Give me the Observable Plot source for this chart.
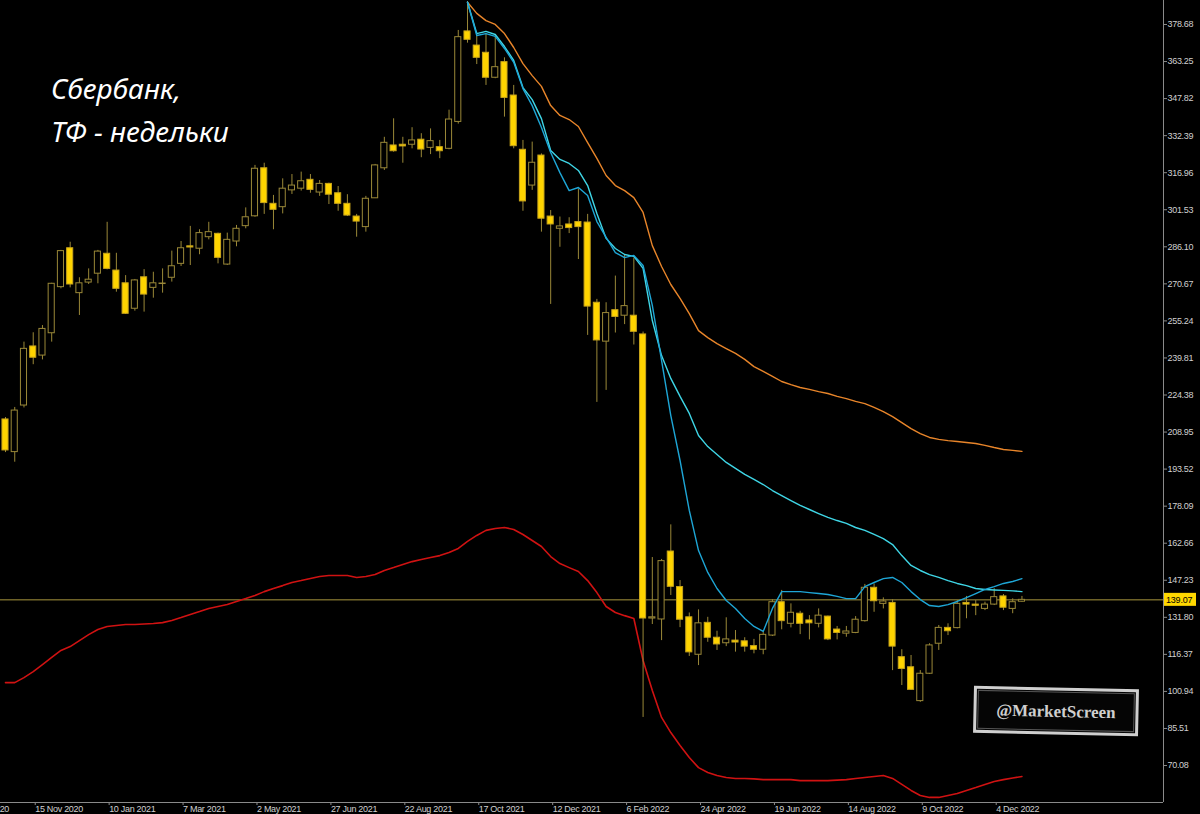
<!DOCTYPE html>
<html><head><meta charset="utf-8">
<script src="https://cdn.jsdelivr.net/npm/d3@7"></script>
<script src="https://cdn.jsdelivr.net/npm/@observablehq/plot@0.6"></script>
<style>
html,body{margin:0;padding:0;background:#000;}
#chart{width:1200px;height:814px;overflow:hidden;}
</style>
</head><body><div id="chart"></div>
<script>
// Weekly candles, bar index 0 = week of 25 Oct 2020 ... 110 = last bar
const open = [214.2,200.6,220.0,244.6,240.8,250.1,269.3,285.5,266.8,271.2,
 274.9,283.2,276.2,270.9,260.3,273.4,269.0,270.6,273.2,279.0,
 286.3,285.3,290.1,291.5,278.7,288.3,294.7,298.8,318.8,304.0,
 302.6,309.6,310.3,314.0,308.7,312.3,308.4,304.0,298.7,294.3,
 306.3,318.8,328.3,328.6,328.6,330.7,327.3,327.6,326.9,338.1,
 375.8,369.9,366.9,356.5,363.0,349.1,326.5,311.6,324.1,298.7,
 293.6,295.4,296.4,296.2,262.8,246.6,259.7,257.4,257.4,249.6,
 131.3,130.9,159.2,144.4,131.8,116.2,129.5,123.3,121.0,122.1,
 121.8,119.8,118.3,124.2,138.1,129.1,133.3,130.5,129.1,132.1,
 126.7,125.0,125.3,130.2,144.1,137.4,137.8,115.2,111.0,96.9,
 108.3,120.8,127.4,127.3,137.8,137.1,135.3,137.1,140.5,135.3,
 138.3];
const high = [215.0,219.2,246.4,250.3,253.3,270.9,284.6,288.0,273.2,276.9,
 284.6,296.3,283.4,274.1,272.5,276.6,275.5,276.9,284.3,288.3,
 294.6,293.2,296.3,291.8,291.8,295.0,302.3,320.0,320.9,307.5,
 314.4,316.2,317.2,316.2,313.7,312.6,311.2,307.8,299.6,307.1,
 320.4,331.7,339.4,331.7,335.7,333.2,335.2,330.4,343.0,376.2,
 388.2,374.1,374.8,374.5,364.8,353.3,330.4,329.7,324.8,301.2,
 298.5,298.2,310.2,299.6,264.2,262.8,273.9,282.9,281.4,250.6,
 156.7,155.9,170.3,147.1,133.6,134.9,131.8,126.0,131.6,126.3,
 123.3,122.6,125.6,139.1,143.0,137.4,134.3,132.5,135.3,132.3,
 128.0,128.0,132.1,145.5,145.7,139.9,139.1,118.3,115.9,109.6,
 120.8,128.4,129.1,138.8,140.5,138.8,138.1,143.7,141.3,139.5,
 140.5];
const low = [200.4,196.4,219.0,237.0,239.0,246.4,268.6,269.0,257.5,270.4,
 270.7,276.5,267.2,257.9,259.3,258.9,264.7,266.8,271.4,277.9,
 278.3,282.8,289.0,279.0,278.3,286.1,293.6,298.4,299.6,293.2,
 299.8,307.9,309.3,308.4,307.1,303.7,300.9,298.7,290.1,292.2,
 306.2,317.9,325.5,320.9,326.9,323.2,324.5,322.8,326.5,337.2,
 370.9,362.0,353.3,356.1,340.1,326.9,300.9,309.6,292.2,262.1,
 285.9,291.6,280.8,249.2,221.3,226.3,250.2,253.7,245.2,90.1,
 128.8,122.1,140.9,127.5,115.5,111.7,121.4,118.0,119.6,117.3,
 117.3,116.6,116.2,123.8,126.6,127.4,124.6,122.4,127.4,122.1,
 122.4,123.5,125.0,129.8,133.9,135.3,109.6,103.4,101.4,96.4,
 108.0,118.0,124.2,127.0,131.2,132.5,134.6,136.7,134.6,133.3,
 138.1];
const close = [201.3,217.9,243.6,239.9,251.9,270.7,284.3,270.4,270.9,272.4,
 284.1,276.9,268.6,258.2,272.1,266.2,270.9,270.8,278.0,285.5,
 285.8,291.8,292.2,281.5,289.0,293.6,298.4,318.6,304.3,301.5,
 310.3,311.6,313.4,309.8,312.3,307.8,304.0,299.1,296.6,306.1,
 320.0,329.4,325.9,327.9,330.4,326.6,330.1,325.9,339.1,373.4,
 372.3,364.8,356.5,360.9,348.1,328.0,305.0,321.1,297.8,295.4,
 294.6,293.9,294.3,261.2,247.1,258.5,256.9,261.4,250.7,131.3,
 131.8,155.2,144.5,130.8,117.2,129.3,123.3,120.5,122.6,121.3,
 119.6,118.3,124.5,138.1,130.2,133.7,129.1,129.3,132.5,122.6,
 125.3,125.9,130.8,144.1,138.5,138.4,119.6,110.3,101.6,108.3,
 120.1,127.4,126.0,137.4,137.1,136.6,137.1,140.2,135.8,138.1,
 139.07];

// Indicator lines (upper bands start at bar 50, lower red line from bar 0)
const bandStart = 50;
const orangeBand = [387.96,383.3,380.3,378.7,374.9,369.1,362.4,357.4,352.9,344.9,
 340.8,339.1,336.2,329.5,322.9,315.8,311.6,309.5,306.6,300.4,
 286.6,277.9,270.4,264.6,258.3,251.2,248.3,245.8,243.7,241.7,
 239.2,236.2,234.2,232.1,230.0,228.7,227.5,226.7,225.8,225.0,
 223.8,222.9,221.7,220.8,219.2,217.5,215.4,212.9,210.4,208.3,
 206.7,205.9,205.4,205.0,204.6,204.2,203.4,202.5,201.7,201.3,
 200.9];
const cyanLight = [387.96,374.9,375.8,374.5,369.5,363.7,352.4,347.4,339.5,326.2,
 322.5,320.8,317.9,311.6,300.0,289.6,285.4,282.9,282.1,277.1,
 255.4,240.8,231.3,223.8,216.7,207.5,202.9,199.6,196.3,193.8,
 191.3,189.2,187.1,184.6,182.5,180.4,178.4,176.7,175.0,173.4,
 172.1,170.9,169.2,168.0,166.3,164.6,162.1,157.5,153.4,151.3,
 149.6,148.4,147.1,145.9,145.0,143.8,143.4,143.2,143.0,142.8,
 142.5];
const cyanDeep = [387.96,374.1,374.9,373.7,368.7,362.9,352.0,344.9,335.8,325.4,
 317.0,309.5,310.8,307.5,296.6,290.0,283.7,281.6,282.5,278.3,
 261.7,238.8,215.8,197.1,176.3,159.6,150.5,143.8,138.8,135.5,
 131.3,128.0,125.9,135.5,142.5,142.5,142.5,142.1,141.7,141.3,
 140.5,139.6,139.6,144.6,146.3,147.9,148.4,146.3,142.5,139.2,
 136.7,136.3,137.1,138.4,140.0,141.7,143.4,144.6,145.9,146.7,
 147.9];
const redLine = [104.6,104.6,106.7,109.2,112.1,115.1,118.0,119.6,122.1,124.6,
 126.7,128.0,128.4,128.8,128.8,129.0,129.2,129.6,130.5,131.7,
 133.0,134.2,135.5,136.3,137.1,138.4,139.6,140.9,142.5,143.8,
 145.0,146.3,147.1,148.0,148.8,149.2,149.2,149.2,148.4,148.8,
 149.6,151.3,152.5,153.8,155.0,155.9,156.7,157.5,158.8,160.5,
 163.4,165.9,168.0,168.8,169.2,168.4,166.3,163.8,161.3,157.1,
 154.2,152.5,150.9,147.1,142.1,136.3,133.8,132.5,131.3,113.8,
 101.3,90.1,83.8,78.4,73.4,69.2,67.2,65.9,65.1,64.7,
 64.7,64.5,64.2,64.2,64.2,64.2,63.8,63.8,63.8,63.8,
 64.0,64.2,64.7,65.1,65.5,65.9,64.7,62.2,59.7,57.6,
 56.8,56.8,57.6,58.4,59.7,60.9,62.2,63.4,64.2,64.9,
 65.5];

const yTicks = [378.68,363.25,347.82,332.39,316.96,301.53,286.10,270.67,255.24,239.81,
 224.38,208.95,193.52,178.09,162.66,147.23,131.80,116.37,100.94,85.51,70.08];
const xTickBars = [-5,3,11,19,27,35,43,51,59,67,75,83,91,99,107];
const xTickLabels = ["20 Sep 2020","15 Nov 2020","10 Jan 2021","7 Mar 2021","2 May 2021",
 "27 Jun 2021","22 Aug 2021","17 Oct 2021","12 Dec 2021","6 Feb 2022","24 Apr 2022",
 "19 Jun 2022","14 Aug 2022","9 Oct 2022","4 Dec 2022"];
const titleLines = ["Сбербанк,", "ТФ - недельки"];
const watermark = "@MarketScreen";

const candles = open.map((o, i) => ({i, open: o, high: high[i], low: low[i], close: close[i]}));
const isBull = d => d.close >= d.open;
const series = (arr, start) => arr.map((v, k) => ({i: start + k, v}));
const lastClose = close[close.length - 1];
const labelOf = new Map(xTickBars.map((b, k) => [b, xTickLabels[k]]));
const xDomain = [-0.541, 125.32];
const yDomain = [54.68, 388.67];

const axisColor = "#8a8a8a";
const wick = "#9a8838";

const chart = Plot.plot({
  width: 1200, height: 814,
  marginLeft: 0, marginRight: 37, marginTop: 0, marginBottom: 12,
  style: {background: "#000", color: "#d0d0d0", fontFamily: "'Liberation Sans', Arial, sans-serif", fontSize: "9px", overflow: "hidden", letterSpacing: "-0.3px"},
  x: {domain: xDomain, axis: null, label: null},
  y: {domain: yDomain, axis: null, label: null},
  marks: [
    Plot.ruleY([lastClose], {stroke: "#a8963e", strokeWidth: 1}),
    Plot.line(series(redLine, 0), {x: "i", y: "v", stroke: "#d01212", strokeWidth: 1.6}),
    Plot.ruleX(candles, {x: "i", y1: "low", y2: "high", stroke: wick, strokeWidth: 1}),
    Plot.rect(candles, {
      x1: d => d.i - 0.33, x2: d => d.i + 0.33, y1: "open", y2: "close",
      fill: d => isBull(d) ? "#000" : "#ffd400",
      stroke: d => isBull(d) ? wick : "#c9a51a", strokeWidth: 1
    }),
    Plot.line(series(orangeBand, bandStart), {x: "i", y: "v", stroke: "#e8852a", strokeWidth: 1.4}),
    Plot.line(series(cyanLight, bandStart), {x: "i", y: "v", stroke: "#3fd6e6", strokeWidth: 1.4}),
    Plot.line(series(cyanDeep, bandStart), {x: "i", y: "v", stroke: "#1ea6d6", strokeWidth: 1.4}),
    Plot.ruleX([xDomain[1]], {stroke: axisColor}),
    Plot.ruleY([yDomain[0]], {stroke: axisColor}),
    Plot.axisY(yTicks, {anchor: "right", label: null, tickSize: 3, tickPadding: 1, tickFormat: d => d.toFixed(2), stroke: axisColor, fill: "#d0d0d0"}),
    Plot.axisX(xTickBars, {anchor: "bottom", label: null, tickSize: 3, tickPadding: 0, tickFormat: d => labelOf.get(d), textAnchor: "start", dx: 2, stroke: axisColor, fill: "#d0d0d0"})
  ]
});
document.getElementById("chart").appendChild(chart);

// Annotations
const svg = d3.select(chart);
const ys = chart.scale("y");
const py = ys.apply(lastClose);
svg.append("rect").attr("x", 1164).attr("y", py - 6.5).attr("width", 32).attr("height", 13).attr("fill", "#ffd700");
svg.append("text").attr("x", 1166).attr("y", py).attr("dy", "0.35em").attr("fill", "#000")
  .attr("text-anchor", "start")
  .style("font", "9px 'Liberation Sans', Arial, sans-serif").style("letter-spacing", "-0.2px").text(lastClose.toFixed(2));

const title = svg.append("g").attr("fill", "#fff").attr("text-anchor", "start")
  .style("font", "italic 28px 'Noto Sans', sans-serif").style("letter-spacing", "0px");
title.append("text").attr("x", 51).attr("y", 99).text(titleLines[0]);
title.append("text").attr("x", 51).attr("y", 142).text(titleLines[1]);

const wm = svg.append("g").attr("transform", "translate(1056,711) rotate(1.2)");
wm.append("rect").attr("x", -81).attr("y", -22).attr("width", 162).attr("height", 44)
  .attr("fill", "#050505").attr("stroke", "#cfcfcf").attr("stroke-width", 3);
wm.append("rect").attr("x", -78).attr("y", -19).attr("width", 156).attr("height", 38)
  .attr("fill", "none").attr("stroke", "#555").attr("stroke-width", 1);
wm.append("text").attr("text-anchor", "middle").attr("dy", "0.35em").attr("fill", "#cfcfcf")
  .style("font", "bold 17px 'Liberation Serif', 'DejaVu Serif', serif").style("letter-spacing", "0px").text(watermark);
</script>
</body></html>
